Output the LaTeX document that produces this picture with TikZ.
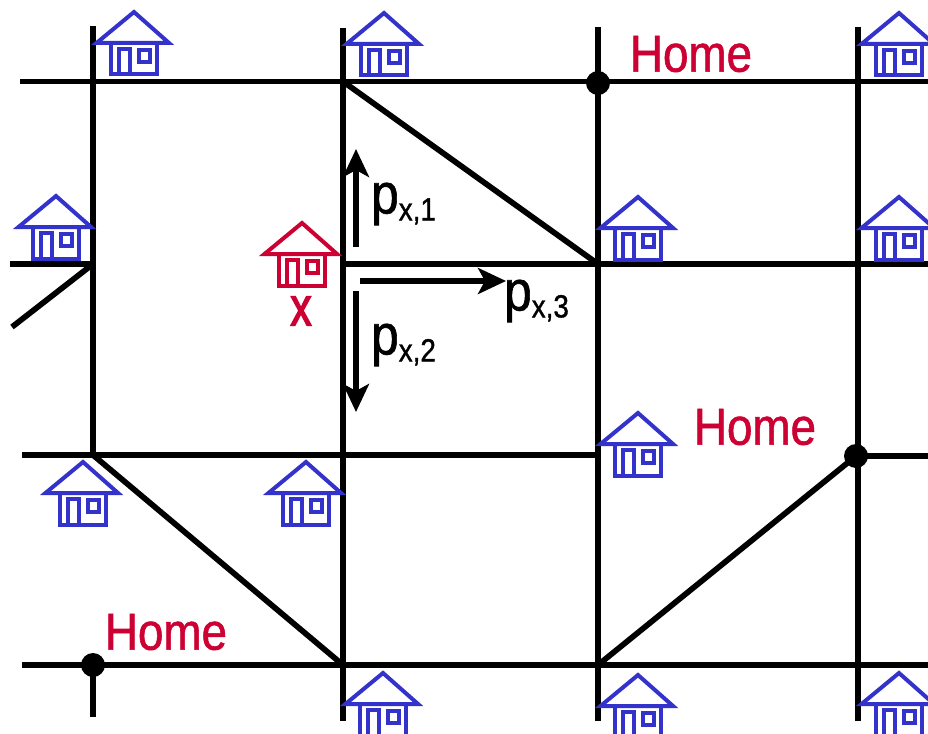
\documentclass[tikz,border=0pt]{standalone}
\usepackage{fontspec}
\setmainfont{Liberation Sans}
\newfontfamily\lblfont[RawFeature={embolden=1.2}]{Liberation Sans}
\newfontfamily\xfont[RawFeature={embolden=3}]{Liberation Sans}
\usepackage{xcolor}
\usetikzlibrary{arrows.meta,positioning,calc}
\definecolor{csblue}{RGB}{51,51,204}
\definecolor{csred}{RGB}{204,0,51}
\newcommand{\plabel}[1]{p\raisebox{-7pt}{\fontsize{32}{34}\selectfont x,#1}}
\tikzset{
  road/.style={line width=5.7pt, black},
  arr/.style={-{Stealth[length=28pt,width=26pt,inset=7pt]}, line width=5.5pt, black},
  homedot/.style={circle, fill=black, minimum size=24pt, inner sep=0pt},
  homelbl/.style={csred, xscale=0.88, font=\lblfont\fontsize{52}{56}\selectfont, inner sep=0pt},
  problbl/.style={black, xscale=0.87, font=\lblfont\fontsize{57}{60}\selectfont, inner sep=0pt},
  xlbl/.style={csred, xscale=0.78, font=\xfont\fontsize{54}{58}\selectfont, inner sep=0pt},
  house/.pic={
    \draw[#1, line width=4pt, miter limit=10] (0,3) -- (35,34) -- (-37.5,34) -- cycle;
    \draw[#1, line width=4pt] (-23,34) -- (-23,65.5) -- (23,65.5) -- (23,34);
    \draw[#1, line width=4pt] (-15,65.5) -- (-15,40) -- (-4,40) -- (-4,65.5);
    \draw[#1, line width=4pt] (5,41) rectangle (16,53);
  },
}
\begin{document}
\begin{tikzpicture}[x=1pt,y=-1pt]
  \useasboundingbox (0,0) rectangle (928,733);
  \clip (0,0) rectangle (928,733);
  % crossings
  \coordinate (a1) at (93,81.5);   \coordinate (b1) at (343,81.5);
  \coordinate (c1) at (598,81.5);  \coordinate (d1) at (858,81.5);
  \coordinate (a2) at (93,264);  \coordinate (b2) at (343,264);
  \coordinate (c2) at (598,264); \coordinate (d2) at (928,264);
  \coordinate (a3) at (93,455);  \coordinate (c3) at (598,455);
  \coordinate (d3) at (856,456); \coordinate (e3) at (928,456);
  \coordinate (a4) at (93,665);  \coordinate (b4) at (343,665);
  \coordinate (c4) at (598,665); \coordinate (d4) at (928,665);
  % free ends
  \coordinate (t1) at (93,26);   \coordinate (t2) at (343,28);
  \coordinate (t3) at (598,27);  \coordinate (t4) at (858,27);
  \coordinate (u1) at (93,717);  \coordinate (u2) at (343,721);
  \coordinate (u3) at (598,721); \coordinate (u4) at (858,721);
  \coordinate (l1) at (20,81.5);   \coordinate (l2) at (10,264);
  \coordinate (l3) at (22,455);  \coordinate (l4) at (22,665);
  \coordinate (r1) at (928,81.5);  \coordinate (s2) at (12,327);
  % roads
  \draw[road] (l1) -- (r1);
  \draw[road] (l2) -- (a2);
  \draw[road] (b2) -- (d2);
  \draw[road] (l3) -- (c3);
  \draw[road] (d3) -- (e3);
  \draw[road] (l4) -- (d4);
  \draw[road] (t1) -- (a3);
  \draw[road] (a4) -- (u1);
  \draw[road] (t2) -- (u2);
  \draw[road] (t3) -- (u3);
  \draw[road] (t4) -- (u4);
  \draw[road] (b1) -- (c2);
  \draw[road] (a2) -- (s2);
  \draw[road] (a3) -- (b4);
  \draw[road] (c4) -- (d3);
  % homes
  \foreach \hx/\hy in {134/9,384/10,899/10,56/193,638/194,899/194,83/459,306/459,638/410,383/670,638/672,899/670} {
    \pic at (\hx,\hy) {house=csblue};
  }
  \pic at (302,220) {house=csred};
  \node[homedot] (dot1) at (598,83) {};
  \node[homedot] (dot2) at (856,456) {};
  \node[homedot] (dot3) at (93,665) {};
  \node[homelbl] (home1) at (691,54) {Home};
  \node[homelbl] (home2) at (755,427) {Home};
  \node[homelbl] (home3) at (166,632) {Home};
  \node[xlbl] (xname) at (301,311) {x};
  % probabilities
  \coordinate (p1a) at (356,247); \coordinate (p1b) at (356,149);
  \coordinate (p2a) at (356,291); \coordinate (p2b) at (356,412);
  \coordinate (p3a) at (360,281); \coordinate (p3b) at (506,281);
  \draw[arr] (p1a) -- (p1b);
  \draw[arr] (p2a) -- (p2b);
  \draw[arr] (p3a) -- (p3b);
  \node[problbl, anchor=west] (px1) at (371,204) {\plabel{1}};
  \node[problbl, anchor=west] (px2) at (371,345) {\plabel{2}};
  \node[problbl, anchor=west] (px3) at (504,301) {\plabel{3}};
\end{tikzpicture}
\end{document}
